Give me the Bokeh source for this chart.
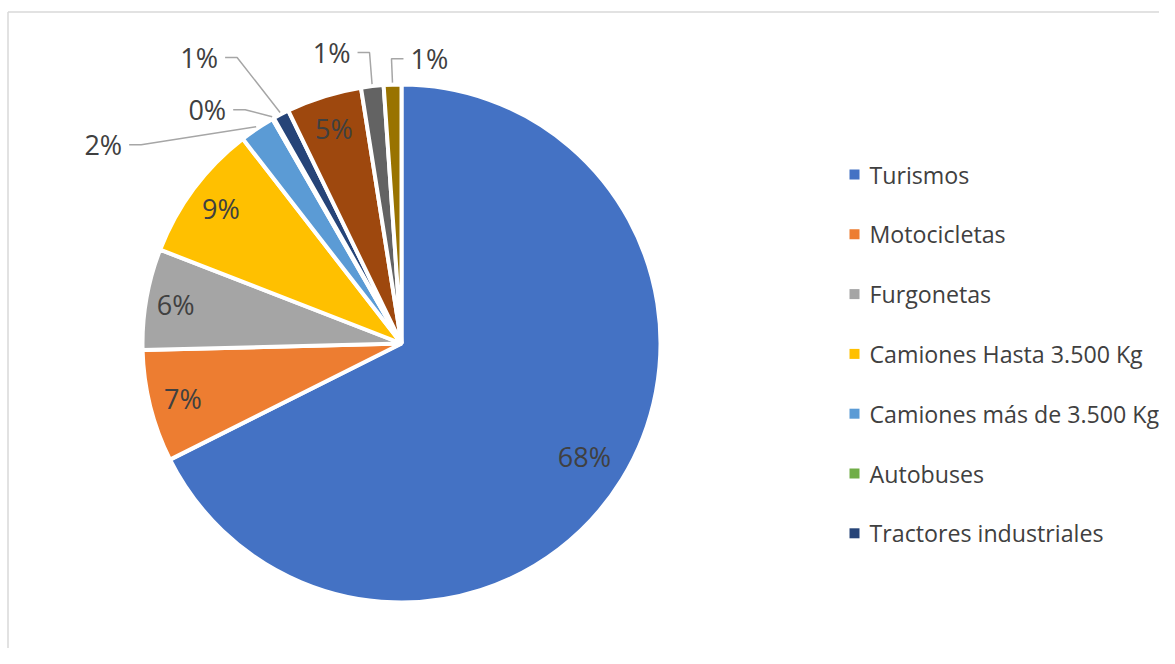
import math
from bokeh.plotting import figure
from bokeh.models import Range1d, ColumnDataSource
from bokeh.core.properties import value
from bokeh.embed import file_html
from bokeh.resources import INLINE

# ---------------- data ----------------
categories = ["Turismos", "Motocicletas", "Furgonetas", "Camiones Hasta 3.500 Kg",
              "Camiones más de 3.500 Kg", "Autobuses", "Tractores industriales",
              "Remolques", "Semirremolques", "Otros vehículos"]
shares = [67.6, 7.0, 6.3, 8.6, 2.2, 0.1, 1.0, 4.7, 1.4, 1.1]
colors = ["#4472C4", "#ED7D31", "#A5A5A5", "#FFC000", "#5B9BD5", "#70AD47",
          "#264478", "#9E480E", "#636363", "#997300"]
legend_count = 7  # only the first seven entries are visible in the legend

# ---------------- layout / style ----------------
W, H = 1159, 648
CX, CY = 401, 343          # pie centre in figure pixels
R = 259
FONT = "Open Sans"
TXT = "#404040"
inside_r = {0: 0.83, 1: 0.87, 2: 0.885, 3: 0.87, 7: 0.87}
# outside labels: index -> (dx, dy, align) offset of text anchor from leader end
outside = {4: (-134, -18, "right"), 5: (-46, 7, "right"), 6: (-62, 55, "right"),
           8: (-21.5, 31.7, "right"), 9: (18, 24, "left")}
GAP, LEN = 7, 12

x0 = -CX
y1 = CY
p = figure(width=W, height=H, output_backend="svg", toolbar_location=None,
           x_range=Range1d(x0, x0 + W), y_range=Range1d(y1 - H, y1),
           x_axis_location=None, y_axis_location=None, min_border=0,
           outline_line_color=None)
p.grid.visible = False
p.background_fill_color = "white"

# frame lines (top and left)
p.line([x0 + 7.5, x0 + W], [y1 - 11.5, y1 - 11.5], line_color="#D9D9D9", line_width=1.5)
p.line([x0 + 7.5, x0 + 7.5], [y1 - 11.5, y1 - H], line_color="#D9D9D9", line_width=1.5)

total = sum(shares)
starts, ends, mids = [], [], []
cum = 0.0
for s in shares:
    a = cum / total
    b = (cum + s) / total
    cum += s
    starts.append(math.pi / 2 - 2 * math.pi * b)
    ends.append(math.pi / 2 - 2 * math.pi * a)
    mids.append(math.pi / 2 - 2 * math.pi * (a + b) / 2)

src = ColumnDataSource(dict(start=starts, end=ends, color=colors))
p.wedge(x=0, y=0, radius=R, start_angle="start", end_angle="end", fill_color="color",
        line_color="white", line_width=4, source=src)

pct = [f"{round(s / total * 100)}%" for s in shares]

# inside labels
ix, iy, it = [], [], []
for i, f in inside_r.items():
    ix.append(R * f * math.cos(mids[i]))
    iy.append(R * f * math.sin(mids[i]))
    it.append(pct[i])
p.text(x=ix, y=iy, text=it, text_font=value(FONT), text_font_size="27px",
       text_color=TXT, text_align="center", text_baseline="middle")

# outside labels with leader lines
for i, (dx, dy, align) in outside.items():
    ex = 261 * math.cos(mids[i])
    ey = 261 * math.sin(mids[i])
    tx, ty = ex + dx, ey + dy
    sgn = 1 if align == "right" else -1
    p.line([ex, tx + sgn * (GAP + LEN), tx + sgn * GAP], [ey, ty, ty],
           line_color="#A6A6A6", line_width=1.5)
    p.text(x=[tx], y=[ty], text=[pct[i]], text_font=value(FONT), text_font_size="27px",
           text_color=TXT, text_align=align, text_baseline="alphabetic")

# legend
LX = 854 - CX
LY = CY - 174
PITCH = 59.8
lx = [LX] * legend_count
ly = [LY - k * PITCH for k in range(legend_count)]
p.scatter(x=lx, y=ly, marker="square", size=10, fill_color=colors[:legend_count],
          line_color=None)
p.text(x=[LX + 15] * legend_count, y=ly, text=categories[:legend_count],
       text_font=value(FONT), text_font_size="23.2px", text_color=TXT,
       text_align="left", text_baseline="middle")

open("out.html", "w").write(file_html(p, INLINE))
